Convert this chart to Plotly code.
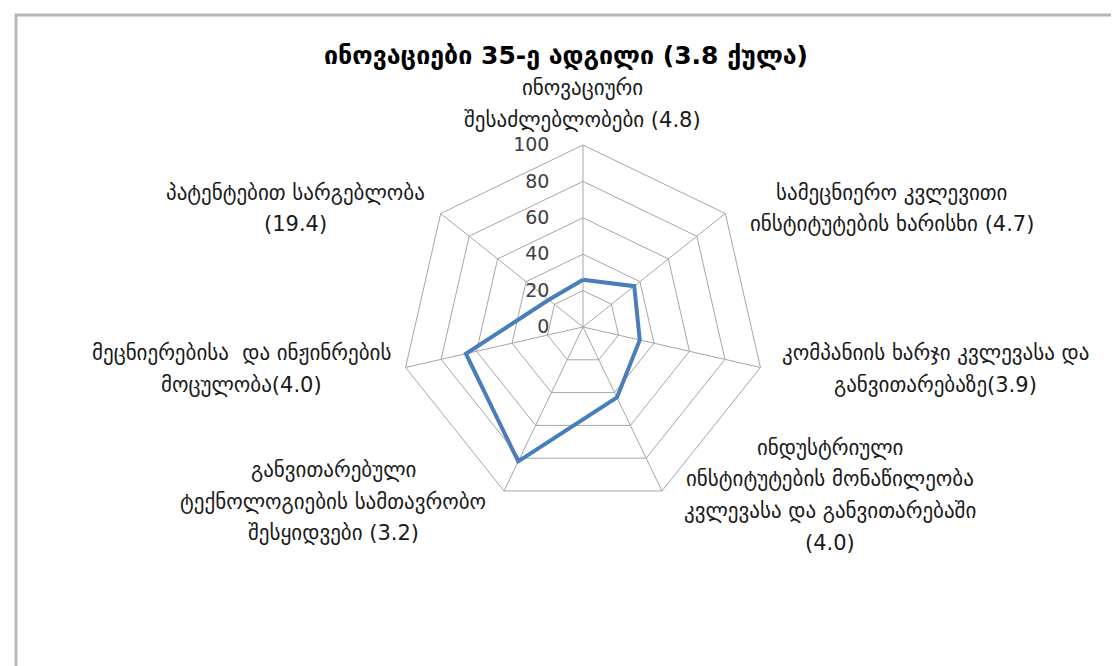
import plotly.graph_objects as go

title_text = "ინოვაციები 35-ე ადგილი (3.8 ქულა)"
categories = [
    "ინოვაციური შესაძლებლობები (4.8)",
    "სამეცნიერო კვლევითი ინსტიტუტების ხარისხი (4.7)",
    "კომპანიის ხარჯი კვლევასა და განვითარებაზე(3.9)",
    "ინდუსტრიული ინსტიტუტების მონაწილეობა კვლევასა და განვითარებაში (4.0)",
    "განვითარებული ტექნოლოგიების სამთავრობო შესყიდვები (3.2)",
    "მეცნიერებისა და ინჟინრების მოცულობა(4.0)",
    "პატენტებით სარგებლობა (19.4)",
]
label_lines = [
    ["ინოვაციური", "შესაძლებლობები (4.8)"],
    ["სამეცნიერო კვლევითი", "ინსტიტუტების ხარისხი (4.7)"],
    ["კომპანიის ხარჯი კვლევასა და", "განვითარებაზე(3.9)"],
    ["ინდუსტრიული", "ინსტიტუტების მონაწილეობა", "კვლევასა და განვითარებაში", "(4.0)"],
    ["განვითარებული", "ტექნოლოგიების სამთავრობო", "შესყიდვები (3.2)"],
    ["მეცნიერებისა  და ინჟინრების", "მოცულობა(4.0)"],
    ["პატენტებით სარგებლობა", "(19.4)"],
]
values = [26, 36, 32, 43, 82, 66, 24]
radial_ticks = [0, 20, 40, 60, 80, 100]

W, H = 1119, 666
cx, cy, R = 575, 319, 182

# label block anchor positions (pixel centres of first line) and line spacing
label_pos = [(574, 80), (884, 185), (927, 345), (822, 440), (325, 462), (233, 345), (287, 185)]
line_gap = 31.5

FONT = "DejaVu Sans"
fig = go.Figure()
fig.add_trace(go.Scatterpolar(
    r=values + values[:1],
    theta=categories + categories[:1],
    mode="lines",
    line=dict(color="#4A7EBB", width=4),
    showlegend=False,
    hoverinfo="skip",
))

annotations = [dict(
    text="<b>" + title_text + "</b>", x=558 / W, y=1 - 47 / H, xref="paper", yref="paper",
    showarrow=False, xanchor="center", yanchor="middle",
    font=dict(family=FONT, size=25, color="#000000"),
)]
for (px, py), lines in zip(label_pos, label_lines):
    for i, ln in enumerate(lines):
        annotations.append(dict(
            text=ln, x=px / W, y=1 - (py + i * line_gap) / H, xref="paper", yref="paper",
            showarrow=False, xanchor="center", yanchor="middle",
            font=dict(family=FONT, size=21, color="#1a1a1a"),
        ))

pad = "<span style='color:rgba(0,0,0,0)'>00.</span>"

fig.update_layout(
    width=W, height=H,
    margin=dict(l=0, r=0, t=0, b=0),
    paper_bgcolor="white",
    plot_bgcolor="white",
    font=dict(family=FONT),
    polar=dict(
        domain=dict(x=[(cx - R) / W, (cx + R) / W], y=[1 - (cy + R) / H, 1 - (cy - R) / H]),
        bgcolor="white",
        gridshape="linear",
        angularaxis=dict(
            rotation=90, direction="clockwise",
            showticklabels=False, ticks="",
            showgrid=True, gridcolor="#A6A6A6", gridwidth=1,
            showline=True, linecolor="#A6A6A6", linewidth=1,
        ),
        radialaxis=dict(
            range=[0, 100], tickvals=radial_ticks, ticktext=[str(t) + pad for t in radial_ticks],
            angle=90, tickangle=90, side="counterclockwise",
            showline=False, ticks="",
            showgrid=True, gridcolor="#A6A6A6", gridwidth=1,
            tickfont=dict(family=FONT, size=19, color="#404040"),
        ),
    ),
    annotations=annotations,
    shapes=[dict(
        type="rect", xref="paper", yref="paper",
        x0=8 / W, x1=1.05, y0=-0.05, y1=1 - 7 / H,
        line=dict(color="#B8B8B8", width=3), fillcolor="rgba(0,0,0,0)", layer="below",
    )],
)

fig.write_html("out.html")
